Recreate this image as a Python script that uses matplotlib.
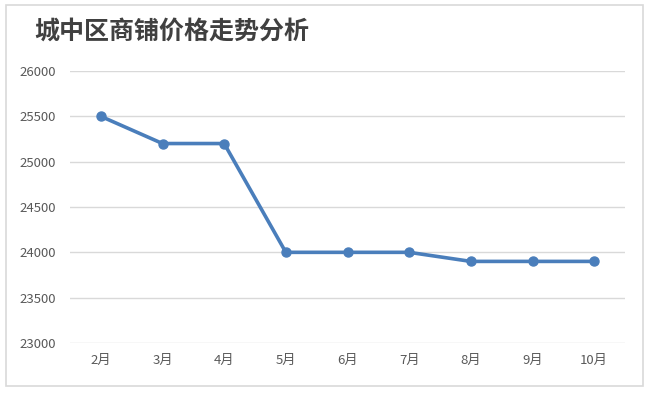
import matplotlib
matplotlib.use("Agg")
import matplotlib.pyplot as plt
from matplotlib.patches import Rectangle

plt.rcParams['font.family'] = ['Noto Sans CJK SC', 'DejaVu Sans']

months = ["2月", "3月", "4月", "5月", "6月", "7月", "8月", "9月", "10月"]
prices = [25500, 25200, 25200, 24000, 24000, 24000, 23900, 23900, 23900]
yticks = [23000, 23500, 24000, 24500, 25000, 25500, 26000]
title = "城中区商铺价格走势分析"

fig = plt.figure(figsize=(6.5, 3.93), dpi=100)
fig.patches.append(Rectangle((6/650, 1-386/393), 637/650, 381/393, transform=fig.transFigure,
                             fill=False, edgecolor='#d9d9d9', linewidth=1.2))
ax = fig.add_axes([70/650, 1-343/393, 555/650, 272/393])
x = list(range(len(months)))
ax.plot(x, prices, color='#4a7ebb', linewidth=2.6, marker='o', markersize=6.5,
        markerfacecolor='#4a7ebb', markeredgecolor='#4a7ebb', zorder=3)
ax.set_xlim(-0.5, len(months) - 0.5)
ax.set_ylim(23000, 26000)
ax.set_yticks(yticks)
ax.set_yticklabels([str(v) for v in yticks])
ax.set_xticks(x)
ax.set_xticklabels(months)
ax.grid(axis='y', color='#d9d9d9', linewidth=1)
ax.set_axisbelow(True)
for s in ax.spines.values():
    s.set_visible(False)
ax.tick_params(axis='both', length=0, labelsize=9.5, colors='#595959')
ax.tick_params(axis='x', pad=8)
ax.tick_params(axis='y', pad=10)
fig.text(34/650, 1-32/393, title, fontsize=18, fontweight='bold', color='#404040',
         ha='left', va='center')
fig.savefig("out.png", dpi=100)
